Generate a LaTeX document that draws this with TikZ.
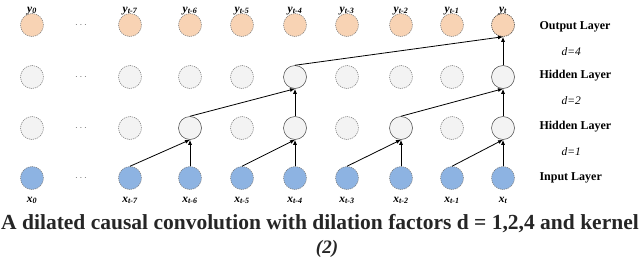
\documentclass[tikz,border=0pt]{standalone}
\usepackage{fontspec}
\setmainfont{Liberation Serif}
\usetikzlibrary{arrows.meta}
\definecolor{orfill}{HTML}{F8D3B4}
\definecolor{grfill}{HTML}{F3F3F3}
\definecolor{blfill}{HTML}{8DB3E2}
\begin{document}
\begin{tikzpicture}[x=1pt,y=-1pt,
  neuron/.style={circle, minimum size=23pt, inner sep=0pt, draw=black!55, line width=0.5pt, dash pattern=on 1.2pt off 0.9pt},
  outn/.style={neuron, fill=orfill},
  hidn/.style={neuron, fill=grfill},
  actn/.style={neuron, fill=grfill, solid, draw=black!75},
  inn/.style={neuron, fill=blfill},
  conn/.style={-{Latex[length=5pt,width=4pt]}, line width=0.8pt, black},
  toplab/.style={font=\fontsize{11.5}{12}\selectfont\bfseries\itshape, anchor=base},
  laylab/.style={font=\fontsize{12}{14}\selectfont\bfseries, anchor=west},
  dlab/.style={font=\fontsize{11.5}{14}\selectfont\itshape, anchor=west},
  dotlab/.style={font=\fontsize{10}{12}\selectfont, text=black!60}
]
\useasboundingbox (0,0) rectangle (640,258);
% nodes
\foreach \n/\x/\hs in {a/32/hidn, b/130/hidn, c/190/actn, d/242/hidn, e/295/actn, f/347/hidn, g/401/actn, h/452/hidn, i/503/actn}{
  \node[outn] (o\n) at (\x,25) {};
  \node[inn] (x\n) at (\x,178) {};
  \node[\hs] (p\n) at (\x,128) {};
}
\foreach \n/\x/\hs in {a/32/hidn, b/130/hidn, c/190/hidn, d/242/hidn, e/295/actn, f/347/hidn, g/401/hidn, h/452/hidn, i/503/actn}{
  \node[\hs] (q\n) at (\x,77) {};
}
\node[outn, draw=black!70] at (oi) {};
% dots
\foreach \r in {o,q,p,x}{
  \path (\r a) -- (\r b) node[dotlab, midway] (dot\r) {$\cdots$};
}
% top labels
\node[toplab] (lya) at (32,12) {y\textsubscript{0}};
\node[toplab] (lyb) at (130,12) {y\textsubscript{t-7}};
\node[toplab] (lyc) at (190,12) {y\textsubscript{t-6}};
\node[toplab] (lyd) at (242,12) {y\textsubscript{t-5}};
\node[toplab] (lye) at (295,12) {y\textsubscript{t-4}};
\node[toplab] (lyf) at (347,12) {y\textsubscript{t-3}};
\node[toplab] (lyg) at (401,12) {y\textsubscript{t-2}};
\node[toplab] (lyh) at (452,12) {y\textsubscript{t-1}};
\node[toplab] (lyi) at (503,12) {y\textsubscript{t}};
\node[toplab] (lxa) at (32,202) {x\textsubscript{0}};
\node[toplab] (lxb) at (130,202) {x\textsubscript{t-7}};
\node[toplab] (lxc) at (190,202) {x\textsubscript{t-6}};
\node[toplab] (lxd) at (242,202) {x\textsubscript{t-5}};
\node[toplab] (lxe) at (295,202) {x\textsubscript{t-4}};
\node[toplab] (lxf) at (347,202) {x\textsubscript{t-3}};
\node[toplab] (lxg) at (401,202) {x\textsubscript{t-2}};
\node[toplab] (lxh) at (452,202) {x\textsubscript{t-1}};
\node[toplab] (lxi) at (503,202) {x\textsubscript{t}};
% layer labels
\node[laylab] (l1) at (536,27) {Output Layer};
\node[dlab] (d4) at (558,52) {d=4};
\node[laylab] (l2) at (536,76) {Hidden Layer};
\node[dlab] (d2) at (558,101) {d=2};
\node[laylab] (l3) at (536,127) {Hidden Layer};
\node[dlab] (d1) at (558,152) {d=1};
\node[laylab] (l4) at (536,178) {Input Layer};
% connectors
\draw[conn] (xb.north) -- (pc.south);
\draw[conn] (xc.north) -- (pc.south);
\draw[conn] (xd.north) -- (pe.south);
\draw[conn] (xe.north) -- (pe.south);
\draw[conn] (xf.north) -- (pg.south);
\draw[conn] (xg.north) -- (pg.south);
\draw[conn] (xh.north) -- (pi.south);
\draw[conn] (xi.north) -- (pi.south);
\draw[conn] (pc.north) -- (qe.south);
\draw[conn] (pe.north) -- (qe.south);
\draw[conn] (pg.north) -- (qi.south);
\draw[conn] (pi.north) -- (qi.south);
\draw[conn] (qe.north) -- (oi.south);
\draw[conn] (qi.north) -- (oi.south);
% caption
\node[font=\fontsize{21.5}{24}\selectfont\bfseries, text=black!85, anchor=base] (cap) at (320,229) {A dilated causal convolution with dilation factors d = 1,2,4 and kernel};
\node[font=\fontsize{19}{22}\selectfont\bfseries\itshape, text=black!85, anchor=base] (cap2) at (327,253) {(2)};
\end{tikzpicture}
\end{document}
